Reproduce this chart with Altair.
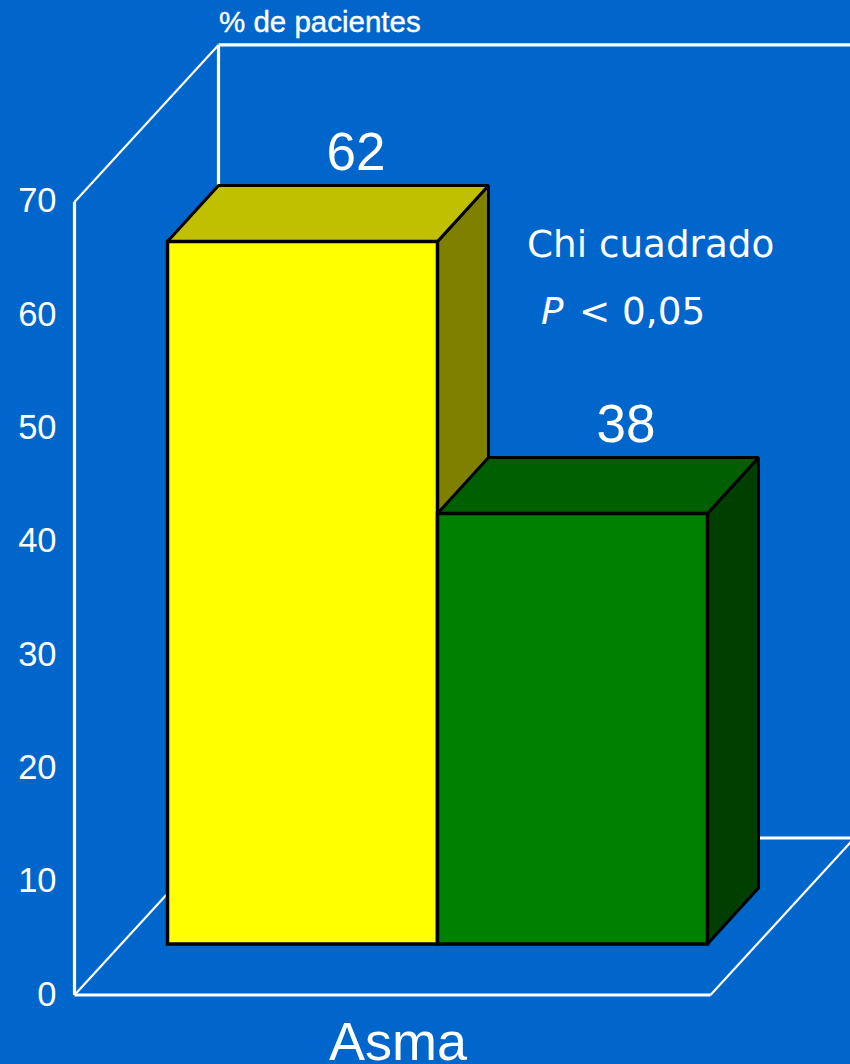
import altair as alt
import pandas as pd

# Series values and axis ticks
categories = ["Si", "No"]
percentages = [62, 38]
y_ticks = [0, 10, 20, 30, 40, 50, 60, 70]
front_colors = ["#FFFF00", "#008000"]
top_colors = ["#C0C000", "#005F00"]
side_colors = ["#808000", "#003F00"]

W, H = 850, 1064
BG = "#0066CC"

# Scale set-up: one x unit is one bar width, y is in percentage points
PX_PER_BAR = 270
PX_PER_PCT = 11.33
X0_PX, Y0_PX = 167.5, 995
x_dom = [-X0_PX / PX_PER_BAR, (W - X0_PX) / PX_PER_BAR]
y_dom = [(Y0_PX - H) / PX_PER_PCT, Y0_PX / PX_PER_PCT]
x_scale = alt.Scale(domain=x_dom, range=[0, W], nice=False, zero=False)
y_scale = alt.Scale(domain=y_dom, range=[H, 0], nice=False, zero=False)

# Oblique projection offsets
BAR_BASE = 4.5                 # front face of the bars stands on the floor at this height
BAR_DX = 51 / PX_PER_BAR       # bar depth
BAR_DY = 56 / PX_PER_PCT
WALL_LEFT = -93 / PX_PER_BAR   # front-left corner of the floor
WALL_RIGHT = 2 + 3 / PX_PER_BAR
WALL_DX = 144 / PX_PER_BAR     # depth of the box
WALL_DY = 157 / PX_PER_PCT
AXIS_MAX = max(y_ticks)

Y_AXIS = alt.Axis(
    values=y_ticks, orient="left", offset=-56, title=None, grid=False, domain=False,
    ticks=False, labelPadding=0, labelColor="white", labelFont="Liberation Sans",
    labelFontSize=34.5, labelBound=False, labelFlush=False, format="d",
)
X = alt.X("x:Q", scale=x_scale, axis=None)
Y = alt.Y("y:Q", scale=y_scale, axis=Y_AXIS)


def segment(points, width):
    df = pd.DataFrame(points, columns=["x", "y"]).assign(i=range(len(points)))
    return alt.Chart(df).mark_line(color="white", strokeWidth=width, clip=True).encode(
        x=X, y=Y, order="i:Q"
    )


back_x, back_y = WALL_LEFT + WALL_DX, WALL_DY
layers = [
    # Walls and floor of the box
    segment([(WALL_LEFT, 0), (WALL_LEFT, AXIS_MAX)], 3.2),
    segment([(WALL_LEFT, 0), (WALL_RIGHT, 0)], 3.2),
    segment([(WALL_LEFT, AXIS_MAX), (back_x, AXIS_MAX + back_y)], 2.2),
    segment([(back_x, AXIS_MAX + back_y), (x_dom[1], AXIS_MAX + back_y)], 3.2),
    segment([(back_x, AXIS_MAX + back_y), (back_x, percentages[0] + BAR_BASE)], 3.2),
    segment([(WALL_LEFT, 0), (back_x, back_y)], 2.2),
    segment([(WALL_RIGHT, 0), (WALL_RIGHT + WALL_DX, back_y)], 2.2),
    segment([(back_x, back_y), (x_dom[1], back_y)], 3.2),
]

for i, value in enumerate(percentages):
    left, right = float(i), float(i + 1)
    top = value + BAR_BASE

    side = pd.DataFrame({
        "x": [right, right + BAR_DX],
        "y": [top, top + BAR_DY],
        "y2": [BAR_BASE, BAR_BASE + BAR_DY],
    })
    layers.append(
        alt.Chart(side).mark_area(color=side_colors[i], stroke="black", strokeWidth=3, strokeJoin="bevel").encode(
            x=X, y=Y, y2="y2:Q"
        )
    )

    cap = pd.DataFrame({
        "y": [top, top + BAR_DY],
        "x": [left, left + BAR_DX],
        "x2": [right, right + BAR_DX],
    })
    layers.append(
        alt.Chart(cap).mark_area(orient="horizontal", color=top_colors[i], stroke="black", strokeWidth=3, strokeJoin="bevel").encode(
            y=Y, x=X, x2="x2:Q"
        )
    )

    front = pd.DataFrame({"x": [left], "x2": [right], "y": [top], "y2": [BAR_BASE]})
    layers.append(
        alt.Chart(front).mark_rect(color=front_colors[i], stroke="black", strokeWidth=3.5).encode(
            x=X, x2="x2:Q", y=Y, y2="y2:Q"
        )
    )

# Value labels above each bar
labels = pd.DataFrame({
    "x": [i + 0.5 + BAR_DX + 2.5 / PX_PER_BAR for i in range(len(percentages))],
    "y": [v + BAR_BASE + BAR_DY + 1.4 for v in percentages],
    "t": [str(v) for v in percentages],
})
layers.append(
    alt.Chart(labels).mark_text(
        color="white", font="Liberation Sans", fontSize=53, baseline="alphabetic", align="center"
    ).encode(x=X, y=Y, text="t:N")
)


def note(text, px, py, **kw):
    df = pd.DataFrame({"t": [text]})
    return alt.Chart(df).mark_text(color="white", baseline="alphabetic", **kw).encode(
        x=alt.value(px), y=alt.value(py), text="t:N"
    )


layers += [
    note("% de pacientes", 219, 32, align="left", font="Liberation Sans", fontSize=29.5, stroke="white", strokeWidth=0.4),
    note("Chi cuadrado", 527, 257, align="left", font="DejaVu Sans", fontSize=37.3),
    note("P", 541, 324, align="left", font="DejaVu Sans", fontSize=37.3, fontStyle="italic"),
    note("< 0,05", 579, 324, align="left", font="DejaVu Sans", fontSize=37.3),
    note("Asma", 398, 1060, align="center", font="Liberation Sans", fontSize=54),
]

chart = alt.layer(*layers).properties(
    width=W, height=H, background=BG, padding=0,
    autosize=alt.AutoSizeParams(type="none"),
).configure_view(stroke=None)

chart.save("out.html", embed_options={"renderer": "svg", "actions": False})
